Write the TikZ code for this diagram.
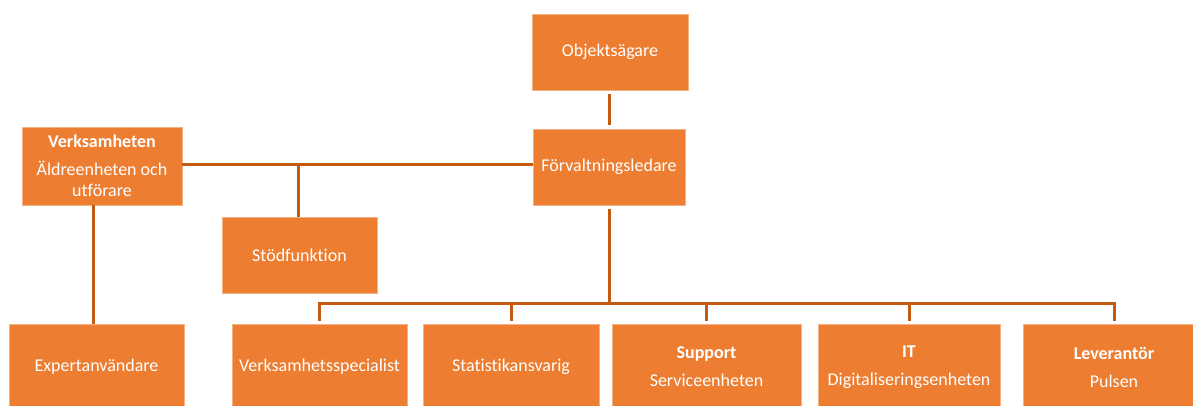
\documentclass[tikz,border=0pt]{standalone}
\usepackage{fontspec}
\setmainfont[Ligatures=NoCommon]{Carlito}
\definecolor{boxfill}{HTML}{ED7D31}
\definecolor{linecol}{HTML}{C55A11}
\tikzset{
  orgbox/.style={draw=boxfill!60!white, line width=0.6pt, fill=boxfill, text=white, align=center,
    inner sep=0pt, font=\fontsize{18}{21}\selectfont},
  conn/.style={draw=linecol, line width=3pt}
}
\begin{document}
\begin{tikzpicture}[x=1pt,y=-1pt]
\useasboundingbox (0,0) rectangle (1193,405);
\clip (0,0) rectangle (1193,405);
\node[orgbox, minimum width=156pt, minimum height=76pt] (obj) at (610,52) {Objektsägare};
\node[orgbox, minimum width=152pt, minimum height=76pt] (forv) at (609,167) {Förvaltningsledare};
\node[orgbox, minimum width=160pt, minimum height=78pt] (verk) at (102,166) {\textbf{Verksamheten}\\[7pt]Äldreenheten och\\utförare};
\node[orgbox, minimum width=155pt, minimum height=76pt] (stod) at (299.5,255) {Stödfunktion};
\node[orgbox, minimum width=175pt, minimum height=86pt] (exp) at (96.5,367) {Expertanvändare};
\node[orgbox, minimum width=175pt, minimum height=86pt] (vs) at (319.5,367) {Verksamhetsspecialist};
\node[orgbox, minimum width=176pt, minimum height=86pt] (stat) at (511,367) {Statistikansvarig};
\node[orgbox, minimum width=189pt, minimum height=86pt] (sup) at (706.5,367) {\textbf{Support}\\[7pt]Serviceenheten};
\node[orgbox, minimum width=182pt, minimum height=86pt] (it) at (909,367) {\textbf{IT}\\[7pt]Digitaliseringsenheten};
\node[orgbox, minimum width=182pt, minimum height=86pt] (lev) at (1114,367) {\textbf{Leverantör}\\[7pt]Pulsen};
\coordinate (bus) at (609,303);
% connectors
\draw[conn] ([yshift=-4pt]obj.south -| forv.north) -- ([yshift=4pt]forv.north);
\draw[conn] (verk.east |- 0,164) -- (forv.west |- 0,164);
\draw[conn] (stod.north -| 298,0) -- (298,164);
\draw[conn] ([xshift=-9pt]verk.south) -- ([xshift=-9pt]verk.south |- exp.north);
\draw[conn] ([yshift=-4pt]forv.south) -- (bus);
\draw[conn] ([yshift=3pt]vs.north) |- (bus) -| ([yshift=3pt]lev.north);
\draw[conn] ([yshift=3pt]stat.north) -- (stat.north |- bus);
\draw[conn] ([yshift=3pt]sup.north) -- (sup.north |- bus);
\draw[conn] ([yshift=3pt]it.north) -- (it.north |- bus);
\end{tikzpicture}
\end{document}
